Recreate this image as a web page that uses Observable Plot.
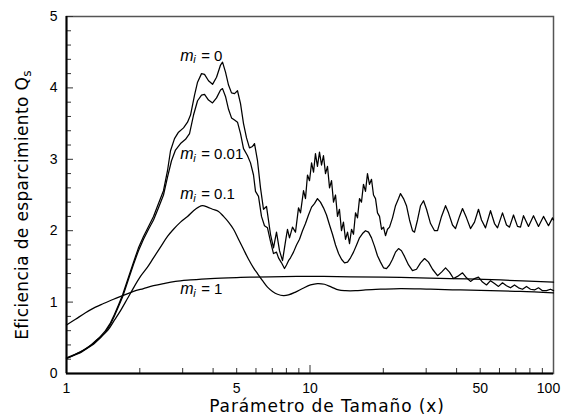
<!DOCTYPE html>
<html><head><meta charset="utf-8">
<script src="https://cdn.jsdelivr.net/npm/d3@7"></script>
<script src="https://cdn.jsdelivr.net/npm/@observablehq/plot@0.6"></script>
<style>body{margin:0;background:#fff}#chart svg{display:block}</style>
</head><body><div id="chart"></div>
<script>
// m_i = 0
const x_m0 = [1.00,1.142,1.291,1.379,1.446,1.516,1.575,1.635,1.699,1.797,1.885,1.975,2.071,2.172,2.277,2.387,2.502,2.599,2.674,2.777,2.884,3.024,3.141,3.231,3.356,3.453,3.585,3.688,3.830,3.979,4.132,4.291,4.373,4.498,4.628,4.761,4.898,5.038,5.184,5.333,5.487,5.643,5.806,5.917,6.087,6.262,6.442,6.627,6.883,7.081,7.285,7.495,7.711,7.932,8.083,8.238,8.475,8.719,8.970,9.141,9.404,9.583,9.766,9.955,10.15,10.34,10.53,10.73,10.94,11.15,11.36,11.58,11.80,12.03,12.26,12.49,12.73,12.97,13.21,13.47,13.72,13.99,14.26,14.53,14.81,15.09,15.38,15.67,15.97,16.27,16.58,16.90,17.22,17.55,17.89,18.23,18.58,18.93,19.30,19.67,20.04,20.42,20.81,21.21,21.82,22.45,23.10,23.53,24.21,24.90,25.63,26.36,26.87,27.64,28.44,29.26,30.10,31.26,32.47,33.40,34.69,36.03,37.05,38.48,39.59,41.12,42.30,43.93,45.62,47.38,49.20,50.62,52.57,55.12,57.25,58.90,61.74,64.12,65.96,68.51,71.14,73.19,75.30,78.94,82.77,86.77,90.98,95.38,99.06,100];
const q_m0 = [0.22,0.30,0.42,0.52,0.60,0.71,0.83,0.96,1.10,1.35,1.56,1.76,1.92,2.06,2.20,2.38,2.56,2.84,3.12,3.29,3.38,3.44,3.52,3.62,3.90,4.08,4.20,4.19,4.10,4.05,4.15,4.32,4.36,4.22,4.04,3.93,3.92,3.96,3.78,3.50,3.30,3.16,3.18,3.22,2.98,2.60,2.30,2.34,1.95,1.76,1.98,1.72,1.58,1.85,2.02,1.90,2.05,1.98,2.32,2.25,2.56,2.45,2.78,2.70,2.95,2.82,3.08,2.90,3.10,2.92,3.05,2.80,2.90,2.60,2.70,2.40,2.50,2.20,2.30,2.00,2.12,1.88,1.98,1.82,2.02,1.95,2.25,2.18,2.45,2.40,2.65,2.55,2.80,2.65,2.72,2.50,2.45,2.25,2.20,2.02,2.05,1.93,2.02,2.05,2.18,2.35,2.45,2.52,2.45,2.35,2.15,2.00,1.98,2.15,2.35,2.42,2.30,2.10,2.00,2.00,2.20,2.35,2.25,2.08,2.03,2.20,2.31,2.18,2.03,2.12,2.30,2.15,2.04,2.28,2.10,2.04,2.25,2.08,2.05,2.22,2.06,2.05,2.21,2.06,2.21,2.06,2.20,2.07,2.18,2.15];
// m_i = 0.01
const x_m001 = [1.00,1.142,1.291,1.379,1.446,1.516,1.575,1.635,1.699,1.797,1.885,1.975,2.071,2.172,2.277,2.387,2.502,2.599,2.699,2.803,2.939,3.082,3.201,3.324,3.453,3.585,3.688,3.830,3.979,4.132,4.291,4.373,4.498,4.628,4.761,4.898,5.038,5.184,5.333,5.539,5.697,5.861,5.973,6.145,6.321,6.503,6.690,6.883,7.081,7.285,7.424,7.638,7.857,8.007,8.160,8.316,8.555,8.802,9.056,9.315,9.583,9.859,10.15,10.43,10.73,11.04,11.36,11.69,12.03,12.37,12.73,13.10,13.47,13.86,14.26,14.67,15.09,15.53,15.97,16.43,16.90,17.39,17.89,18.41,18.93,19.48,20.04,20.61,21.21,21.82,22.45,23.10,23.75,24.44,25.39,26.36,27.38,28.44,29.54,30.67,31.86,33.40,34.69,36.03,37.40,38.85,40.35,42.30,43.93,45.62,47.38,49.20,51.10,53.07,55.12,57.25,59.45,61.74,64.12,66.59,69.16,71.82,74.59,77.46,80.45,83.56,86.77,90.12,93.59,97.20,100];
const q_m001 = [0.21,0.29,0.41,0.50,0.58,0.69,0.81,0.94,1.07,1.32,1.53,1.72,1.88,2.02,2.15,2.32,2.50,2.75,2.98,3.13,3.22,3.28,3.36,3.62,3.82,3.90,3.91,3.83,3.79,3.86,3.97,3.99,3.88,3.70,3.58,3.55,3.52,3.36,3.15,3.05,2.95,2.78,2.55,2.48,2.20,2.07,2.04,1.85,1.68,1.70,1.62,1.55,1.47,1.52,1.58,1.62,1.70,1.80,1.88,2.00,2.10,2.22,2.33,2.38,2.45,2.40,2.32,2.22,2.08,1.95,1.80,1.68,1.60,1.55,1.56,1.62,1.70,1.80,1.90,1.96,2.00,1.98,1.90,1.78,1.65,1.56,1.48,1.47,1.52,1.60,1.70,1.75,1.72,1.64,1.52,1.44,1.46,1.55,1.61,1.56,1.46,1.37,1.42,1.48,1.42,1.33,1.36,1.41,1.34,1.29,1.33,1.35,1.28,1.24,1.30,1.26,1.22,1.27,1.23,1.20,1.24,1.20,1.18,1.22,1.18,1.17,1.20,1.16,1.16,1.18,1.16];
// m_i = 0.1
const x_m01 = [1.00,1.089,1.220,1.340,1.474,1.575,1.667,1.780,1.885,2.013,2.151,2.277,2.432,2.599,2.751,2.939,3.141,3.324,3.486,3.619,3.794,3.979,4.211,4.415,4.628,4.852,5.086,5.333,5.592,5.861,6.087,6.382,6.690,7.015,7.354,7.784,8.160,8.719,9.315,10.05,10.73,11.47,12.26,13.10,13.99,15.38,16.90,19.48,23.53,31.26,41.51,55.12,73.19,100];
const q_m01 = [0.21,0.27,0.36,0.48,0.60,0.75,0.88,1.05,1.20,1.36,1.49,1.62,1.77,1.92,2.02,2.12,2.20,2.28,2.33,2.35,2.33,2.30,2.27,2.20,2.12,2.02,1.88,1.74,1.60,1.48,1.40,1.30,1.21,1.15,1.11,1.09,1.10,1.14,1.19,1.24,1.26,1.25,1.21,1.17,1.16,1.16,1.17,1.18,1.19,1.18,1.17,1.16,1.15,1.13];
// m_i = 1
const x_m1 = [1.00,1.089,1.197,1.315,1.419,1.560,1.699,1.885,2.071,2.277,2.502,2.803,3.231,3.904,5.184,6.883,10.05,14.67,23.53,37.76,60.58,100];
const q_m1 = [0.68,0.76,0.85,0.93,0.98,1.04,1.09,1.15,1.19,1.23,1.26,1.29,1.31,1.33,1.345,1.355,1.36,1.355,1.345,1.33,1.31,1.28];

const labelValues = ["= 0", "= 0.01", "= 0.1", "= 1"];
const labelX = [2.93, 2.93, 2.93, 2.93];
const labelQ = [4.45, 3.07, 2.51, 1.18];

const yTickLabels = [0, 1, 2, 3, 4, 5];
const yMinorTicks = [0.2,0.4,0.6,0.8,1.2,1.4,1.6,1.8,2.2,2.4,2.6,2.8,3.2,3.4,3.6,3.8,4.2,4.4,4.6,4.8];
const xTickLabels = [1, 5, 10, 50];
const xLastTickLabel = [100];
const xMinorTicks = [2,3,4,5,6,7,8,9,20,30,40,50,60,70,80,90];
const xMajorTicks = [10];

const xTitle = "Parámetro de Tamaño (x)";
const yTitleMain = "Eficiencia de esparcimiento Q";
const yTitleSub = "s";

const toRows = (xs, qs, s) => xs.map((x, i) => ({x, q: qs[i], s}));
const ripple = [...toRows(x_m0, q_m0, "0"), ...toRows(x_m001, q_m001, "0.01")];
const smooth = [...toRows(x_m01, q_m01, "0.1"), ...toRows(x_m1, q_m1, "1")];
const labels = labelValues.map((v, i) => ({v, x: labelX[i], q: labelQ[i]}));

const W = 563, H = 418, mL = 66, mR = 10, mT = 16, mB = 45;
const innerW = W - mL - mR, innerH = H - mT - mB;

const chart = Plot.plot({
  width: W, height: H,
  marginLeft: mL, marginRight: mR, marginTop: mT, marginBottom: mB,
  x: {type: "log", domain: [1, 100]},
  y: {domain: [0, 5]},
  style: {fontFamily: "'Liberation Sans', Arial, sans-serif", fontSize: "14px", background: "#fff", color: "#000"},
  marks: [
    Plot.frame({stroke: "#555", strokeWidth: 1.5}),
    Plot.tickY(yMinorTicks, {y: d => d, insetRight: innerW - 5, stroke: "#333"}),
    Plot.tickY(yTickLabels, {y: d => d, insetRight: innerW - 7, stroke: "#333"}),
    Plot.tickX(xMinorTicks, {x: d => d, insetTop: innerH - 5, stroke: "#333"}),
    Plot.tickX(xMajorTicks, {x: d => d, insetTop: innerH - 8, stroke: "#333"}),
    Plot.ruleX([1], {stroke: "#000", strokeWidth: 2}),
    Plot.ruleY([0], {stroke: "#000", strokeWidth: 2}),
    Plot.line(ripple, {x: "x", y: "q", z: "s", stroke: "#000", strokeWidth: 1.25}),
    Plot.line(smooth, {x: "x", y: "q", z: "s", stroke: "#000", strokeWidth: 1.25, curve: "catmull-rom"}),
    Plot.axisY({ticks: yTickLabels, tickFormat: d => String(d), tickSize: 0, tickPadding: 9, fontSize: 14, label: null}),
    Plot.axisX({ticks: xTickLabels, tickFormat: d => String(d), tickSize: 0, tickPadding: 10, fontSize: 14, label: null}),
    Plot.axisX({ticks: xLastTickLabel, tickFormat: d => String(d), tickSize: 0, tickPadding: 10, fontSize: 14, label: null, dx: -5}),
    Plot.text(labels, {x: "x", y: "q", text: () => "m", fontStyle: "italic", textAnchor: "start", fontSize: 16}),
    Plot.text(labels, {x: "x", y: "q", text: () => "i", fontStyle: "italic", textAnchor: "start", fontSize: 11, dx: 13, dy: 4}),
    Plot.text(labels, {x: "x", y: "q", text: "v", textAnchor: "start", fontSize: 15, dx: 21}),
    Plot.text([xTitle], {text: d => d, frameAnchor: "bottom", textAnchor: "middle", lineAnchor: "middle", dy: 33.5, dx: 17, fontSize: 17, fontFamily: "DejaVu Sans"}),
    Plot.text([yTitleMain], {text: d => d, frameAnchor: "left", textAnchor: "middle", lineAnchor: "middle", dx: -44, dy: 10, rotate: -90, fontSize: 17, fontFamily: "DejaVu Sans"})
  ]
});
// styling tweaks: letter spacing of the titles and a subscript for Q
for (const t of chart.querySelectorAll("text")) {
  if (t.textContent === xTitle) t.style.letterSpacing = "0.9px";
  if (t.textContent === yTitleMain) {
    t.style.letterSpacing = "0.35px";
    const ts = document.createElementNS("http://www.w3.org/2000/svg", "tspan");
    ts.textContent = yTitleSub;
    ts.setAttribute("font-size", "12");
    ts.setAttribute("dy", "0.25em");
    t.appendChild(ts);
  }
}
document.getElementById("chart").append(chart);
</script>
</body></html>
